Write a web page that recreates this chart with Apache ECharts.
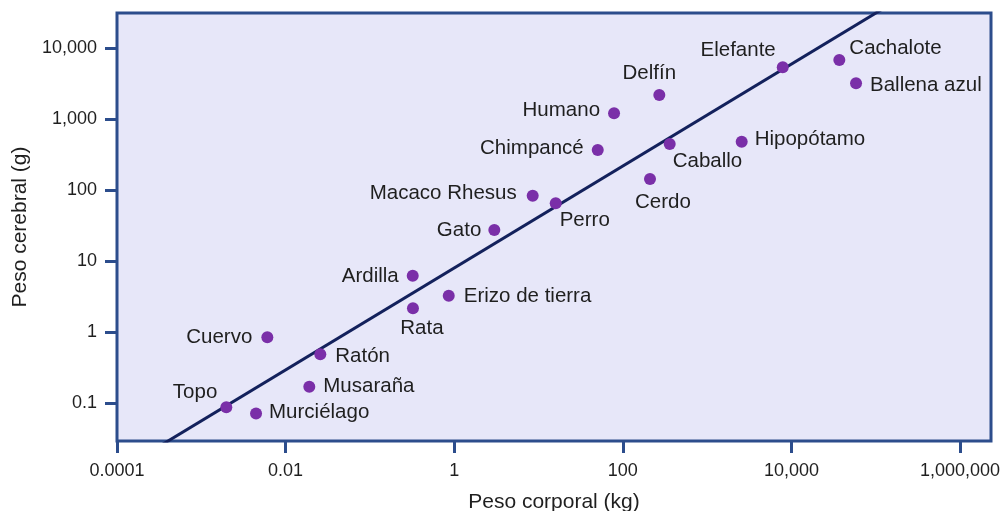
<!DOCTYPE html>
<html>
<head>
<meta charset="utf-8">
<script src="https://cdn.jsdelivr.net/npm/echarts@6/dist/echarts.min.js"></script>
<style>
html,body{margin:0;padding:0;background:#fff;}
#chart{width:1003px;height:511px;}
</style>
</head>
<body>
<div id="chart"></div>
<script>
// Data (body mass in kg, brain mass in g)
const animals = ['Topo','Murciélago','Musaraña','Ratón','Cuervo','Rata','Ardilla','Erizo de tierra','Gato','Macaco Rhesus','Perro','Chimpancé','Humano','Delfín','Caballo','Cerdo','Hipopótamo','Elefante','Cachalote','Ballena azul'];
const bodyKg  = [0.00198,0.00446,0.0191,0.0258,0.00607,0.324,0.322,0.861,2.99,8.53,16.0,50.4,78.7,271,360,210,2570,7890,37000,58400];
const brainG  = [0.088,0.072,0.171,0.49,0.85,2.18,6.27,3.28,27.6,84,65.6,370,1215,2200,449,144,484,5400,6850,3215];
// Trend line end points
const trendBody  = [0.0001, 2330000];
const trendBrain = [0.0108, 300000];
// Tick labels
const xTicks = [0.0001, 0.01, 1, 100, 10000, 1000000];
const yTicks = [0.1, 1, 10, 100, 1000, 10000];

// Label placement (style, not data): [align, dx, dy], same order as animals
const labelPlace = [
  ['right',-9,-15],   // Topo
  ['left',13,-1],     // Murciélago
  ['left',14,0],      // Musaraña
  ['left',15,2],      // Ratón
  ['right',-15,0],    // Cuervo
  ['center',9,20],    // Rata
  ['right',-14,1],    // Ardilla
  ['left',15,1],      // Erizo de tierra
  ['right',-13,0],    // Gato
  ['right',-16,-2],   // Macaco Rhesus
  ['center',29,17],   // Perro
  ['right',-14,-2],   // Chimpancé
  ['right',-14,-3],   // Humano
  ['center',-10,-22], // Delfín
  ['left',3,17],      // Caballo
  ['center',13,23],   // Cerdo
  ['left',13,-2],     // Hipopótamo
  ['right',-7,-17],   // Elefante
  ['left',10,-12],    // Cachalote
  ['left',14,2]       // Ballena azul
];

function fmt(v){
  if (v >= 1) return Math.round(v).toLocaleString('en-US');
  return String(+v.toPrecision(3));
}

const FONT = 'Liberation Sans, Arial, sans-serif';
const scatterData = animals.map((n,i)=>({
  name:n,
  value:[bodyKg[i], brainG[i]],
  label:{
    show:true, position:'inside', formatter:n,
    align:labelPlace[i][0], verticalAlign:'middle',
    offset:[labelPlace[i][1], labelPlace[i][2]],
    color:'#1f1f1f', fontSize:20.5, fontFamily:FONT
  }
}));

const axisColor = '#2c4d8c';
const chart = echarts.init(document.getElementById('chart'));
chart.setOption({
  animation:false,
  backgroundColor:'#ffffff',
  grid:{left:117,right:12,top:13,bottom:70,show:true,backgroundColor:'#e7e7f9',borderColor:axisColor,borderWidth:3,
        containLabel:false, outerBoundsMode:'none'},
  xAxis:{
    type:'log', logBase:10, min:0.0001, max:2330000,
    name:'Peso corporal (kg)', nameLocation:'middle', nameGap:51,
    nameTextStyle:{color:'#1f1f1f',fontSize:21,fontFamily:FONT},
    axisLine:{show:false},
    splitLine:{show:false}, minorTick:{show:false}, minorSplitLine:{show:false},
    axisTick:{show:true, length:12, inside:false, customValues:xTicks, lineStyle:{color:axisColor,width:3}},
    axisLabel:{customValues:xTicks, margin:21, color:'#1f1f1f', fontSize:18, fontFamily:FONT, formatter:fmt, showMinLabel:true, showMaxLabel:true}
  },
  yAxis:{
    type:'log', logBase:10, min:0.0294, max:31400,
    name:'Peso cerebral (g)', nameLocation:'middle', nameGap:84,
    nameTextStyle:{color:'#1f1f1f',fontSize:21,fontFamily:FONT},
    axisLine:{show:false},
    splitLine:{show:false}, minorTick:{show:false}, minorSplitLine:{show:false},
    axisTick:{show:true, length:12, inside:false, customValues:yTicks, lineStyle:{color:axisColor,width:3}},
    axisLabel:{customValues:yTicks, margin:20, color:'#1f1f1f', fontSize:18, fontFamily:FONT, formatter:fmt}
  },
  series:[
    {
      type:'line', data:trendBody.map((b,i)=>[b,trendBrain[i]]),
      showSymbol:false, symbol:'none', clip:true,
      lineStyle:{color:'#13215c',width:3}, silent:true, z:2
    },
    {
      type:'scatter', data:scatterData, symbol:'circle', symbolSize:12,
      itemStyle:{color:'#7a2fa8',opacity:1}, emphasis:{disabled:true}, z:3
    }
  ]
});
</script>
</body>
</html>
